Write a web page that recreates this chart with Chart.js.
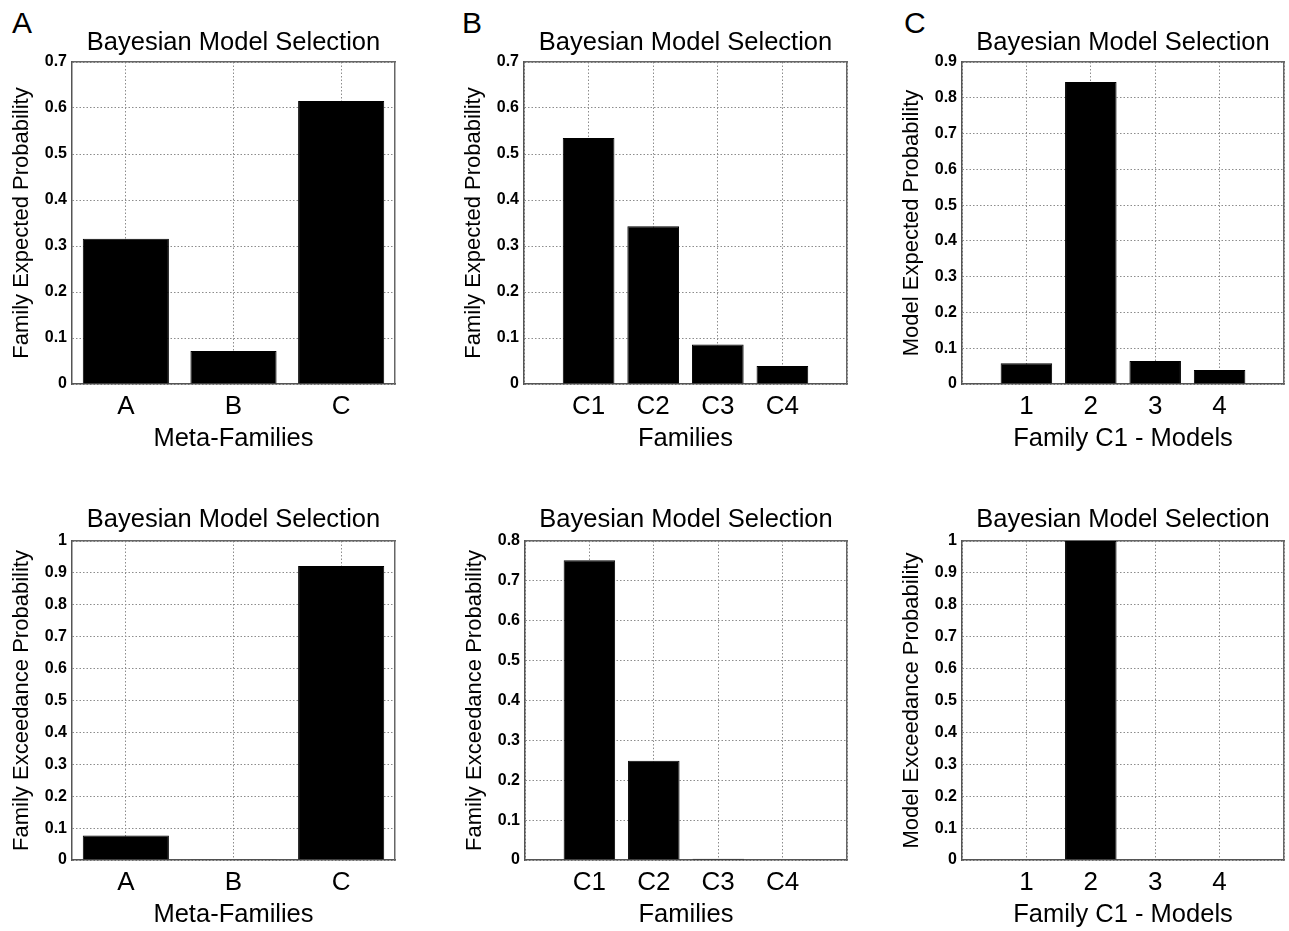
<!DOCTYPE html>
<html>
<head>
<meta charset="utf-8">
<script src="https://cdn.jsdelivr.net/npm/chart.js@4.4.0/dist/chart.umd.min.js"></script>
<style>
  body { margin: 0; background: #fff; overflow: hidden; }
  #wrap { position: relative; width: 1289px; height: 931px; overflow: hidden; background: #fff; }
  #wrap canvas { position: absolute; }
  .letter { position: absolute; font: 30px "Liberation Sans", Arial, sans-serif; line-height: 1; color: #000; }
</style>
</head>
<body>
<div id="wrap">
  <div class="letter" style="left:12px;top:8px">A</div>
  <div class="letter" style="left:462px;top:8px">B</div>
  <div class="letter" style="left:904px;top:8px">C</div>
  <canvas id="top_a"></canvas>
  <canvas id="top_b"></canvas>
  <canvas id="top_c"></canvas>
  <canvas id="bot_a"></canvas>
  <canvas id="bot_b"></canvas>
  <canvas id="bot_c"></canvas>
</div>
<script>
const META_LABELS = ['A', 'B', 'C'];
const FAMILY_LABELS = ['C1', 'C2', 'C3', 'C4'];
const MODEL_LABELS = ['1', '2', '3', '4'];

// expected probabilities (top row)
const metaExpected = [0.316, 0.072, 0.615];
const familyExpected = [0.535, 0.343, 0.086, 0.039];
const modelExpected = [0.058, 0.844, 0.064, 0.039];

// exceedance probabilities (bottom row)
const metaExceedance = [0.077, 0.002, 0.922];
const familyExceedance = [0.752, 0.249, 0.003, 0];
const modelExceedance = [0, 1.0, 0, 0];

const TITLE = 'Bayesian Model Selection';
const FONT = '"Liberation Sans", Arial, Helvetica, sans-serif';
const AXIS_W = 72;   // room for y ticks + title
const XAXIS_H = 70;  // room for x ticks + title
const TITLE_SIZE = 25.5;

Chart.defaults.font.family = FONT;
Chart.defaults.color = '#000';

function makeChart(id, box, labels, values, yMax, yTitle, xTitle) {
  // box: plot area in page pixels + top of the row
  const canvas = document.getElementById(id);
  const w = box.R - box.L + 2 * AXIS_W;
  const h = box.B - box.rowTop + XAXIS_H;
  canvas.width = w;
  canvas.height = h;
  canvas.style.left = (box.L - AXIS_W) + 'px';
  canvas.style.top = box.rowTop + 'px';

  const padded = labels.length === 4;  // xlim 0..5 for the 4-bar panels
  const gridLine = { color: '#8c8c8c', lineWidth: 1, drawTicks: false, offset: false };
  const frame = { display: true, color: '#555', width: 1.5, dash: [1.5, 2] };

  let xScale;
  let data;
  if (padded) {
    data = values.map((v, i) => ({ x: i + 1, y: v }));
    xScale = {
      type: 'linear', min: 0, max: 5, offset: false,
      ticks: { stepSize: 1, padding: 7, font: { size: 26 }, callback: v => labels[v - 1] || '' },
      grid: gridLine, border: frame
    };
  } else {
    data = values;
    xScale = {
      type: 'category', offset: true,
      ticks: { padding: 7, font: { size: 26 } },
      grid: gridLine, border: frame
    };
  }
  xScale.title = { display: true, text: xTitle, font: { size: 25.5 }, padding: { top: 0, bottom: 0 } };
  xScale.afterFit = s => { s.height = XAXIS_H; };

  const titleTop = box.rowTop === 0 ? 27.5 : 24.5;
  const titleBottom = (box.T - box.rowTop) - TITLE_SIZE * 1.2 - titleTop;

  return new Chart(canvas, {
    type: 'bar',
    data: {
      labels: padded ? undefined : labels,
      datasets: [{
        data: data,
        xAxisID: 'x',
        yAxisID: 'y',
        backgroundColor: '#000',
        borderColor: '#000',
        borderWidth: 1,
        barPercentage: 0.8,
        categoryPercentage: 1.0
      }]
    },
    options: {
      responsive: false,
      animation: false,
      layout: { padding: 0 },
      plugins: {
        legend: { display: false },
        tooltip: { enabled: false },
        title: {
          display: true, text: TITLE, color: '#000',
          font: { size: TITLE_SIZE, weight: 'normal', lineHeight: 1.2 },
          padding: { top: titleTop, bottom: titleBottom }
        }
      },
      scales: {
        x: xScale,
        x2: {
          type: 'linear', position: 'top', display: true,
          ticks: { display: false }, grid: { display: false },
          border: { display: true, color: '#666', width: 1.5 },
          afterFit: s => { s.height = 0; }
        },
        y: {
          min: 0, max: yMax,
          ticks: {
            stepSize: 0.1, padding: 5, font: { size: 16, weight: 'bold' },
            callback: v => String(parseFloat(v.toFixed(2)))
          },
          grid: gridLine, border: frame,
          title: { display: true, text: yTitle, font: { size: 22, lineHeight: 1.2 }, padding: { top: 9, bottom: 0 } },
          afterFit: s => { s.width = AXIS_W; }
        },
        y2: {
          type: 'linear', position: 'right', display: true,
          ticks: { display: false }, grid: { display: false },
          border: { display: true, color: '#666', width: 1.5 },
          afterFit: s => { s.width = AXIS_W; }
        }
      }
    }
  });
}

makeChart('top_a', { L: 72, T: 62, R: 395, B: 384, rowTop: 0 }, META_LABELS, metaExpected, 0.7,
  'Family Expected Probability', 'Meta-Families');
makeChart('top_b', { L: 524, T: 62, R: 847, B: 384, rowTop: 0 }, FAMILY_LABELS, familyExpected, 0.7,
  'Family Expected Probability', 'Families');
makeChart('top_c', { L: 962, T: 62, R: 1284, B: 384, rowTop: 0 }, MODEL_LABELS, modelExpected, 0.9,
  'Model Expected Probability', 'Family C1 - Models');

makeChart('bot_a', { L: 72, T: 541, R: 395, B: 860, rowTop: 480 }, META_LABELS, metaExceedance, 1,
  'Family Exceedance Probability', 'Meta-Families');
makeChart('bot_b', { L: 525, T: 541, R: 847, B: 860, rowTop: 480 }, FAMILY_LABELS, familyExceedance, 0.8,
  'Family Exceedance Probability', 'Families');
makeChart('bot_c', { L: 962, T: 541, R: 1284, B: 860, rowTop: 480 }, MODEL_LABELS, modelExceedance, 1,
  'Model Exceedance Probability', 'Family C1 - Models');
</script>
</body>
</html>
